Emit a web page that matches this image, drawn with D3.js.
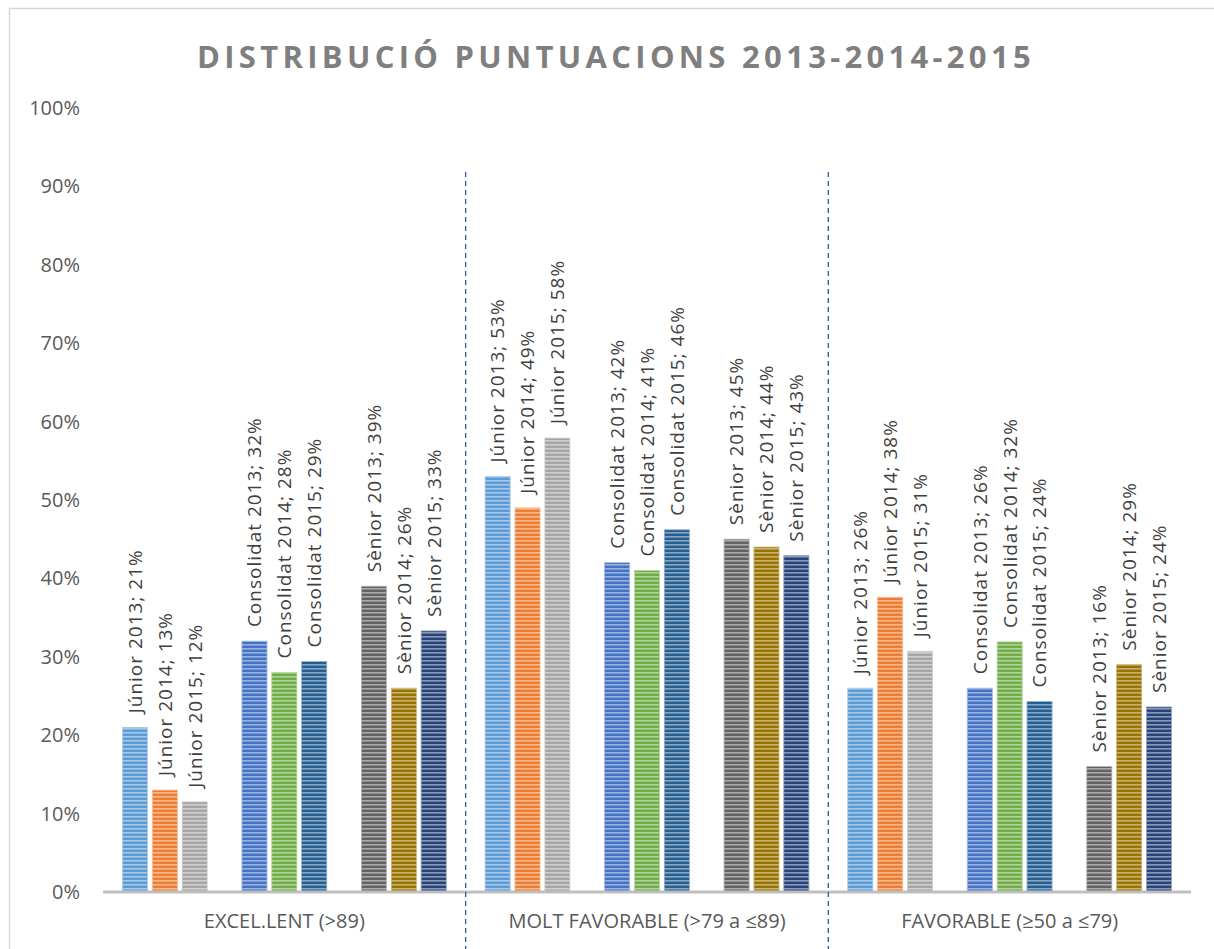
<!DOCTYPE html>
<html><head><meta charset="utf-8">
<script src="https://cdn.jsdelivr.net/npm/d3@7"></script>
<style>body{margin:0;background:#fff;}svg{display:block;}</style>
</head><body>
<script>
const categories = ["EXCEL.LENT (>89)", "MOLT FAVORABLE (>79 a ≤89)", "FAVORABLE (≥50 a ≤79)"];
const seriesNames = ["Júnior 2013","Júnior 2014","Júnior 2015","Consolidat 2013","Consolidat 2014","Consolidat 2015","Sènior 2013","Sènior 2014","Sènior 2015"];
const junior2013 = [21, 53, 26];
const junior2014 = [13, 49, 37.6];
const junior2015 = [11.5, 57.9, 30.7];
const consolidat2013 = [32, 42, 26];
const consolidat2014 = [28, 41, 31.9];
const consolidat2015 = [29.4, 46.2, 24.3];
const senior2013 = [39, 45, 16];
const senior2014 = [26, 44, 29];
const senior2015 = [33.3, 42.9, 23.6];
const seriesColors = ["#5B9BD5","#ED7D31","#A5A5A5","#4472C4","#70AD47","#255E91","#636363","#997300","#264478"];
const yTicks = [0,10,20,30,40,50,60,70,80,90,100];
const title = "DISTRIBUCIÓ PUNTUACIONS 2013-2014-2015";

const seriesValues = [junior2013,junior2014,junior2015,consolidat2013,consolidat2014,consolidat2015,senior2013,senior2014,senior2015];
const slots = ["s0","s1","s2","gap1","s3","s4","s5","gap2","s6","s7","s8"];

const W = 1214, H = 949;
const svg = d3.select("body").append("svg").attr("width", W).attr("height", H);
const defs = svg.append("defs");

seriesColors.forEach((c, i) => {
  const light = d3.interpolateRgb(c, "#ffffff")(0.45);
  const p = defs.append("pattern").attr("id", "pat" + i)
    .attr("patternUnits", "userSpaceOnUse").attr("width", 8).attr("height", 4);
  p.append("rect").attr("width", 8).attr("height", 4).attr("fill", c);
  p.append("rect").attr("y", 0).attr("width", 8).attr("height", 1.6).attr("fill", light);
});

svg.append("rect").attr("x", 9.5).attr("y", 8.5).attr("width", 1400).attr("height", 1200)
  .attr("fill", "none").attr("stroke", "#D9D9D9").attr("stroke-width", 1.5);

const mLeft = 103, mRight = 1191, mTop = 108, mBottom = 892;
const x0 = d3.scaleBand().domain(categories).range([mLeft, mRight]).padding(0);
const x1 = d3.scaleBand().domain(slots).range([0, x0.bandwidth()]).paddingInner(0.16).paddingOuter(0.65);
const y = d3.scaleLinear().domain([0, 100]).range([mBottom, mTop]);

svg.append("text").attr("x", 616).attr("y", 68).attr("text-anchor", "middle")
  .attr("font-family", "Open Sans").attr("font-weight", "bold").attr("font-size", 31)
  .attr("letter-spacing", 4.3).attr("fill", "#7F7F7F").text(title);

const yAxis = d3.axisLeft(y).tickValues(yTicks).tickFormat(d => d + "%").tickSize(0).tickPadding(0);
const gy = svg.append("g").attr("transform", `translate(80,0)`).call(yAxis);
gy.select(".domain").remove();
gy.selectAll("text").attr("font-family", "Open Sans").attr("font-size", 20).attr("fill", "#595959");

const data = [];
const realSlots = slots.filter(s => !s.startsWith("gap"));
categories.forEach((cat, ci) => {
  seriesNames.forEach((name, si) => {
    data.push({cat, name, si, slot: realSlots[si], v: seriesValues[si][ci]});
  });
});

const g = svg.append("g");
g.selectAll("rect.bar").data(data).join("rect").attr("class", "bar")
  .attr("x", d => x0(d.cat) + x1(d.slot))
  .attr("width", x1.bandwidth())
  .attr("y", d => y(d.v))
  .attr("height", d => y(0) - y(d.v))
  .attr("fill", d => `url(#pat${d.si})`)
  .attr("stroke", d => d3.interpolateRgb(seriesColors[d.si], "#ffffff")(0.5))
  .attr("stroke-width", 0.8);

g.selectAll("text.lbl").data(data).join("text").attr("class", "lbl")
  .attr("transform", d => `translate(${x0(d.cat) + x1(d.slot) + x1.bandwidth()/2},${y(d.v) - 14}) rotate(-90)`)
  .attr("dy", "0.36em")
  .attr("font-family", "Open Sans").attr("font-size", 19).attr("letter-spacing", 1)
  .attr("fill", "#404040")
  .text(d => `${d.name}; ${Math.round(d.v)}%`);

svg.append("line").attr("x1", mLeft).attr("x2", mRight).attr("y1", y(0)).attr("y2", y(0))
  .attr("stroke", "#BFBFBF").attr("stroke-width", 3);

categories.slice(1).forEach(c => {
  svg.append("line").attr("x1", x0(c)).attr("x2", x0(c)).attr("y1", 172).attr("y2", H)
    .attr("stroke", "#2F5597").attr("stroke-width", 1.3).attr("stroke-dasharray", "5,4");
});

const xAxis = d3.axisBottom(x0).tickSize(0).tickPadding(0);
const gx = svg.append("g").attr("transform", `translate(0,${mBottom + 22})`).call(xAxis);
gx.select(".domain").remove();
gx.selectAll("text").attr("font-family", "Open Sans").attr("font-size", 20).attr("fill", "#595959");
</script>
</body></html>
